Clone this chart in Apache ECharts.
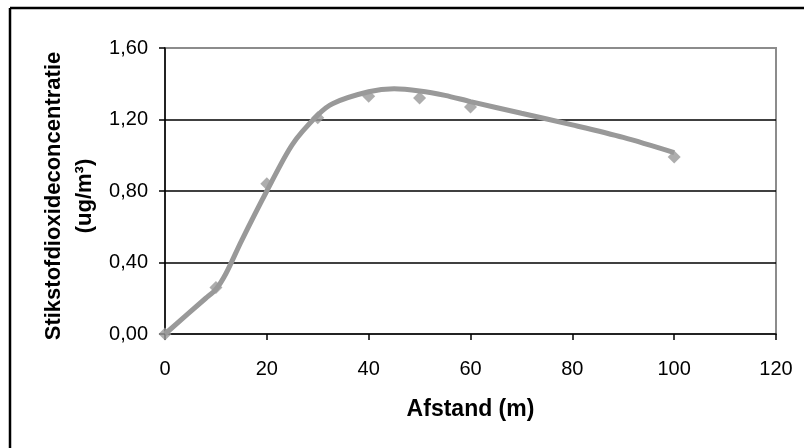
<!DOCTYPE html>
<html>
<head>
<meta charset="utf-8">
<script src="https://cdn.jsdelivr.net/npm/echarts@6/dist/echarts.min.js"></script>
<style>
  html, body { margin: 0; padding: 0; background: #fff; }
  #chart { width: 804px; height: 448px; }
</style>
</head>
<body>
<div id="chart"></div>
<script>
// Measured NO2 concentration per distance
var afstand = [0, 10, 20, 30, 40, 50, 60, 100];
var concentratie = [0.00, 0.26, 0.84, 1.21, 1.33, 1.32, 1.27, 0.99];

// Fitted curve
var curveX = [0, 8, 10, 12, 15, 20, 25, 30, 33, 40, 45, 50, 55, 60, 70, 80, 90, 100];
var curveY = [0.00, 0.20, 0.25, 0.34, 0.52, 0.80, 1.06, 1.225, 1.29, 1.355, 1.372, 1.36, 1.335, 1.30, 1.235, 1.17, 1.10, 1.015];

var xTicks = [0, 20, 40, 60, 80, 100, 120];
var yTicks = [0, 0.4, 0.8, 1.2, 1.6];

var yTitle = ['Stikstofdioxideconcentratie', '(ug/m³)'];

var FONT = '"Liberation Sans", Arial, sans-serif';

function pairs(xs, ys) {
  return xs.map(function (x, i) { return [x, ys[i]]; });
}

var chart = echarts.init(document.getElementById('chart'), null, { renderer: 'canvas' });

chart.setOption({
  animation: false,
  backgroundColor: '#fff',
  grid: {
    left: 165, right: 28, top: 48, bottom: 114,
    show: true, borderColor: '#8c8c8c', borderWidth: 2, backgroundColor: 'transparent'
  },
  graphic: [
    { type: 'line', shape: { x1: 10, y1: 8, x2: 804, y2: 8 }, style: { stroke: '#000', lineWidth: 2.5 } },
    { type: 'line', shape: { x1: 10, y1: 8, x2: 10, y2: 448 }, style: { stroke: '#000', lineWidth: 2.5 } },
    {
      type: 'text', x: 54, y: 196, rotation: Math.PI / 2,
      style: { text: yTitle[0], font: 'bold 22px ' + FONT, fill: '#000', align: 'center', verticalAlign: 'middle' }
    },
    {
      type: 'text', x: 85, y: 196, rotation: Math.PI / 2,
      style: { text: yTitle[1], font: 'bold 22px ' + FONT, fill: '#000', align: 'center', verticalAlign: 'middle' }
    }
  ],
  xAxis: {
    type: 'value',
    min: xTicks[0], max: xTicks[xTicks.length - 1], interval: 20,
    name: 'Afstand (m)', nameLocation: 'middle', nameGap: 64,
    nameTextStyle: { fontFamily: FONT, fontWeight: 'bold', fontSize: 23, color: '#000' },
    axisLine: { show: true, lineStyle: { color: '#000', width: 1.5 } },
    axisTick: { show: true, inside: false, length: 6, lineStyle: { color: '#000', width: 1.5 } },
    axisLabel: { fontFamily: FONT, fontSize: 20, color: '#000', margin: 25 },
    splitLine: { show: false }
  },
  yAxis: {
    type: 'value',
    min: yTicks[0], max: yTicks[yTicks.length - 1], interval: 0.4,
    axisLine: { show: true, lineStyle: { color: '#000', width: 1.5 } },
    axisTick: { show: true, inside: false, length: 6, lineStyle: { color: '#000', width: 1.5 } },
    axisLabel: {
      fontFamily: FONT, fontSize: 20, color: '#000', margin: 17,
      formatter: function (v) { return v.toFixed(2).replace('.', ','); }
    },
    splitLine: { show: true, showMinLine: false, showMaxLine: false, lineStyle: { color: '#000', width: 1.5 } }
  },
  series: [
    {
      name: 'meting',
      type: 'scatter',
      data: pairs(afstand, concentratie),
      symbol: 'diamond',
      symbolSize: 13,
      itemStyle: { color: '#999999' },
      z: 3
    },
    {
      name: 'curve',
      type: 'line',
      data: pairs(curveX, curveY),
      smooth: 0.3,
      showSymbol: false,
      lineStyle: { color: '#999999', width: 5 },
      z: 4
    }
  ]
});
</script>
</body>
</html>
